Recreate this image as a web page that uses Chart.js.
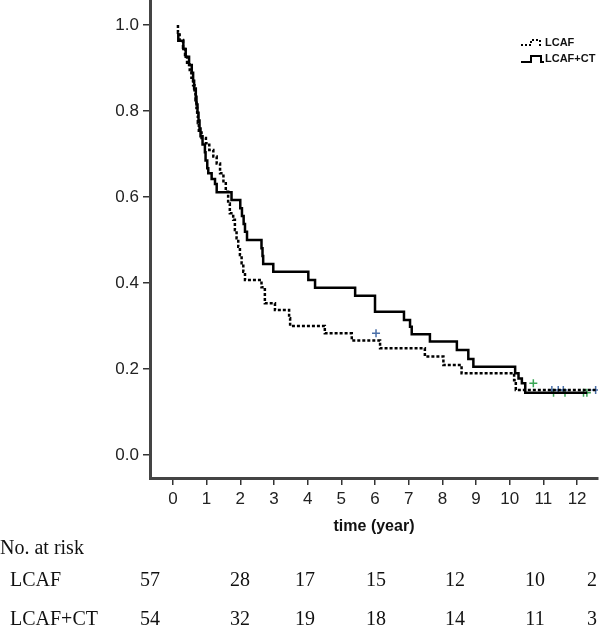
<!DOCTYPE html>
<html>
<head>
<meta charset="utf-8">
<script src="https://cdn.jsdelivr.net/npm/chart.js@4/dist/chart.umd.min.js"></script>
<style>
  body { margin: 0; background: #fff; }
  canvas { display: block; }
</style>
</head>
<body>
<canvas id="kmChart" width="600" height="634"></canvas>
<script>
/* global Chart */

// Kaplan-Meier steps (time in years, survival proportion)
const lcafTimes = [0.15, 0.2, 0.3, 0.36, 0.42, 0.5, 0.55, 0.6, 0.64, 0.67, 0.7, 0.72, 0.74, 0.77, 0.85, 0.98, 1.08, 1.2, 1.3, 1.4, 1.5, 1.57, 1.64, 1.69, 1.79, 1.84, 1.89, 1.94, 1.99, 2.04, 2.09, 2.14, 2.63, 2.73, 3.03, 3.45, 3.48, 4.51, 5.31, 6.15, 7.48, 8.03, 8.57, 10.13, 10.18, 10.5, 12.55];
const lcafSurv = [1.0, 0.982, 0.965, 0.947, 0.93, 0.912, 0.895, 0.877, 0.86, 0.842, 0.825, 0.807, 0.789, 0.772, 0.754, 0.737, 0.725, 0.709, 0.694, 0.678, 0.655, 0.632, 0.612, 0.585, 0.562, 0.547, 0.523, 0.504, 0.484, 0.465, 0.446, 0.426, 0.407, 0.39, 0.353, 0.337, 0.318, 0.3, 0.283, 0.266, 0.248, 0.229, 0.209, 0.19, 0.174, 0.151, 0.151];

const ctTimes = [0.16, 0.31, 0.38, 0.48, 0.56, 0.6, 0.63, 0.68, 0.7, 0.73, 0.76, 0.79, 0.82, 0.88, 0.95, 0.97, 1.02, 1.05, 1.15, 1.25, 1.3, 1.74, 2.0, 2.05, 2.1, 2.14, 2.2, 2.63, 2.66, 2.68, 2.98, 4.02, 4.22, 5.41, 6.0, 6.86, 7.04, 7.09, 7.63, 8.43, 8.77, 8.92, 10.16, 10.26, 10.36, 10.46, 10.8, 12.3];
const ctSurv = [0.981, 0.963, 0.944, 0.926, 0.907, 0.889, 0.87, 0.852, 0.833, 0.815, 0.796, 0.778, 0.759, 0.741, 0.722, 0.704, 0.685, 0.667, 0.655, 0.642, 0.63, 0.611, 0.593, 0.574, 0.556, 0.537, 0.519, 0.5, 0.481, 0.463, 0.444, 0.426, 0.407, 0.389, 0.37, 0.333, 0.314, 0.298, 0.281, 0.264, 0.244, 0.223, 0.205, 0.19, 0.178, 0.167, 0.145, 0.145];

// censored observations
const lcafCensorTimes = [6.03, 11.25, 11.44, 11.59, 12.55];
const lcafCensorSurv = [0.283, 0.151, 0.151, 0.151, 0.151];
const ctCensorTimes = [10.7, 11.3, 11.64, 12.19, 12.29];
const ctCensorSurv = [0.167, 0.145, 0.145, 0.145, 0.145];

const xTicks = [0, 1, 2, 3, 4, 5, 6, 7, 8, 9, 10, 11, 12];
const yTicks = [0, 0.2, 0.4, 0.6, 0.8, 1.0];

// number at risk table
const riskGroups = ['LCAF', 'LCAF+CT'];
const riskLcaf = [57, 28, 17, 15, 12, 10, 2];
const riskCt = [54, 32, 19, 18, 14, 11, 3];

function pts(xs, ys) {
  return xs.map(function (x, i) { return { x: x, y: ys[i] }; });
}

const sans = '"Liberation Sans", Arial, sans-serif';
const serif = '"Liberation Serif", "Times New Roman", serif';

// draws axis title, legend and the risk table
const extras = {
  id: 'extras',
  afterDraw: function (chart) {
    const ctx = chart.ctx;
    const area = chart.chartArea;
    ctx.save();
    ctx.fillStyle = '#111';
    ctx.textBaseline = 'middle';

    // axis title
    ctx.font = 'bold 16px ' + sans;
    ctx.textAlign = 'center';
    ctx.fillText('time (year)', (area.left + area.right) / 2, 527);

    // legend
    ctx.font = 'bold 11px ' + sans;
    ctx.textAlign = 'left';
    ctx.fillText('LCAF', 545, 43);
    ctx.fillText('LCAF+CT', 545, 59);
    ctx.strokeStyle = '#000';
    ctx.lineWidth = 2;
    ctx.setLineDash([2, 2]);
    ctx.beginPath();
    ctx.moveTo(521, 45); ctx.lineTo(531, 45); ctx.lineTo(531, 40);
    ctx.lineTo(540, 40); ctx.lineTo(540, 45); ctx.lineTo(543, 45);
    ctx.stroke();
    ctx.setLineDash([]);
    ctx.beginPath();
    ctx.moveTo(521, 62); ctx.lineTo(531, 62); ctx.lineTo(531, 56);
    ctx.lineTo(541, 56); ctx.lineTo(541, 62); ctx.lineTo(544, 62);
    ctx.stroke();

    // number at risk
    ctx.font = '20px ' + serif;
    ctx.fillText('No. at risk', 0, 549);
    ctx.fillText(riskGroups[0], 10, 581);
    ctx.fillText(riskGroups[1], 10, 620);
    const cols = [150, 240, 305, 376, 455, 535, 592];
    ctx.textAlign = 'center';
    riskLcaf.forEach(function (n, i) { ctx.fillText(String(n), cols[i], 581); });
    riskCt.forEach(function (n, i) { ctx.fillText(String(n), cols[i], 620); });
    ctx.restore();
  }
};

const ctx = document.getElementById('kmChart').getContext('2d');
const kmChart = new Chart(ctx, {
  type: 'line',
  data: {
    datasets: [{
      label: 'LCAF',
      data: pts(lcafTimes, lcafSurv),
      borderColor: '#000',
      borderWidth: 2.5,
      borderDash: [3, 2],
      stepped: 'after',
      pointRadius: 0,
      fill: false
    }, {
      label: 'LCAF+CT',
      data: pts(ctTimes, ctSurv),
      borderColor: '#000',
      borderWidth: 2.5,
      stepped: 'after',
      pointRadius: 0,
      fill: false
    }, {
      label: 'LCAF censored',
      data: pts(lcafCensorTimes, lcafCensorSurv),
      showLine: false,
      pointStyle: 'cross',
      pointRadius: 4,
      borderColor: '#4a6fa8',
      borderWidth: 1.5
    }, {
      label: 'LCAF+CT censored',
      data: pts(ctCensorTimes, ctCensorSurv),
      showLine: false,
      pointStyle: 'cross',
      pointRadius: 4,
      borderColor: '#3aa655',
      borderWidth: 1.5
    }]
  },
  options: {
    responsive: false,
    animation: false,
    devicePixelRatio: 1,
    layout: { padding: { left: 0, right: 2, top: 0, bottom: 0 }, autoPadding: false },
    plugins: {
      legend: { display: false },
      tooltip: { enabled: false }
    },
    scales: {
      x: {
        type: 'linear',
        min: -0.68,
        max: 12.62,
        afterBuildTicks: function (scale) {
          scale.ticks = xTicks.map(function (v) { return { value: v }; });
        },
        afterFit: function (scale) {
          scale.height = 156;
          scale.paddingLeft = 0;
          scale.paddingRight = 0;
        },
        border: { display: true, color: '#444', width: 3 },
        grid: { drawOnChartArea: false, drawTicks: true, tickLength: 7, color: '#333', lineWidth: 1.5 },
        ticks: {
          color: '#222',
          padding: 4,
          maxRotation: 0,
          font: { family: sans, size: 17 },
          callback: function (v) { return String(v); }
        }
      },
      y: {
        type: 'linear',
        min: -0.0535,
        max: 1.058,
        afterBuildTicks: function (scale) {
          scale.ticks = yTicks.map(function (v) { return { value: v }; });
        },
        afterFit: function (scale) {
          scale.width = 150;
          scale.paddingTop = 0;
          scale.paddingBottom = 0;
        },
        border: { display: true, color: '#444', width: 3 },
        grid: { drawOnChartArea: false, drawTicks: true, tickLength: 7, color: '#333', lineWidth: 1.5 },
        ticks: {
          color: '#222',
          padding: 4,
          font: { family: sans, size: 17 },
          callback: function (v) { return Number(v).toFixed(1); }
        }
      }
    }
  },
  plugins: [extras]
});
</script>
</body>
</html>
